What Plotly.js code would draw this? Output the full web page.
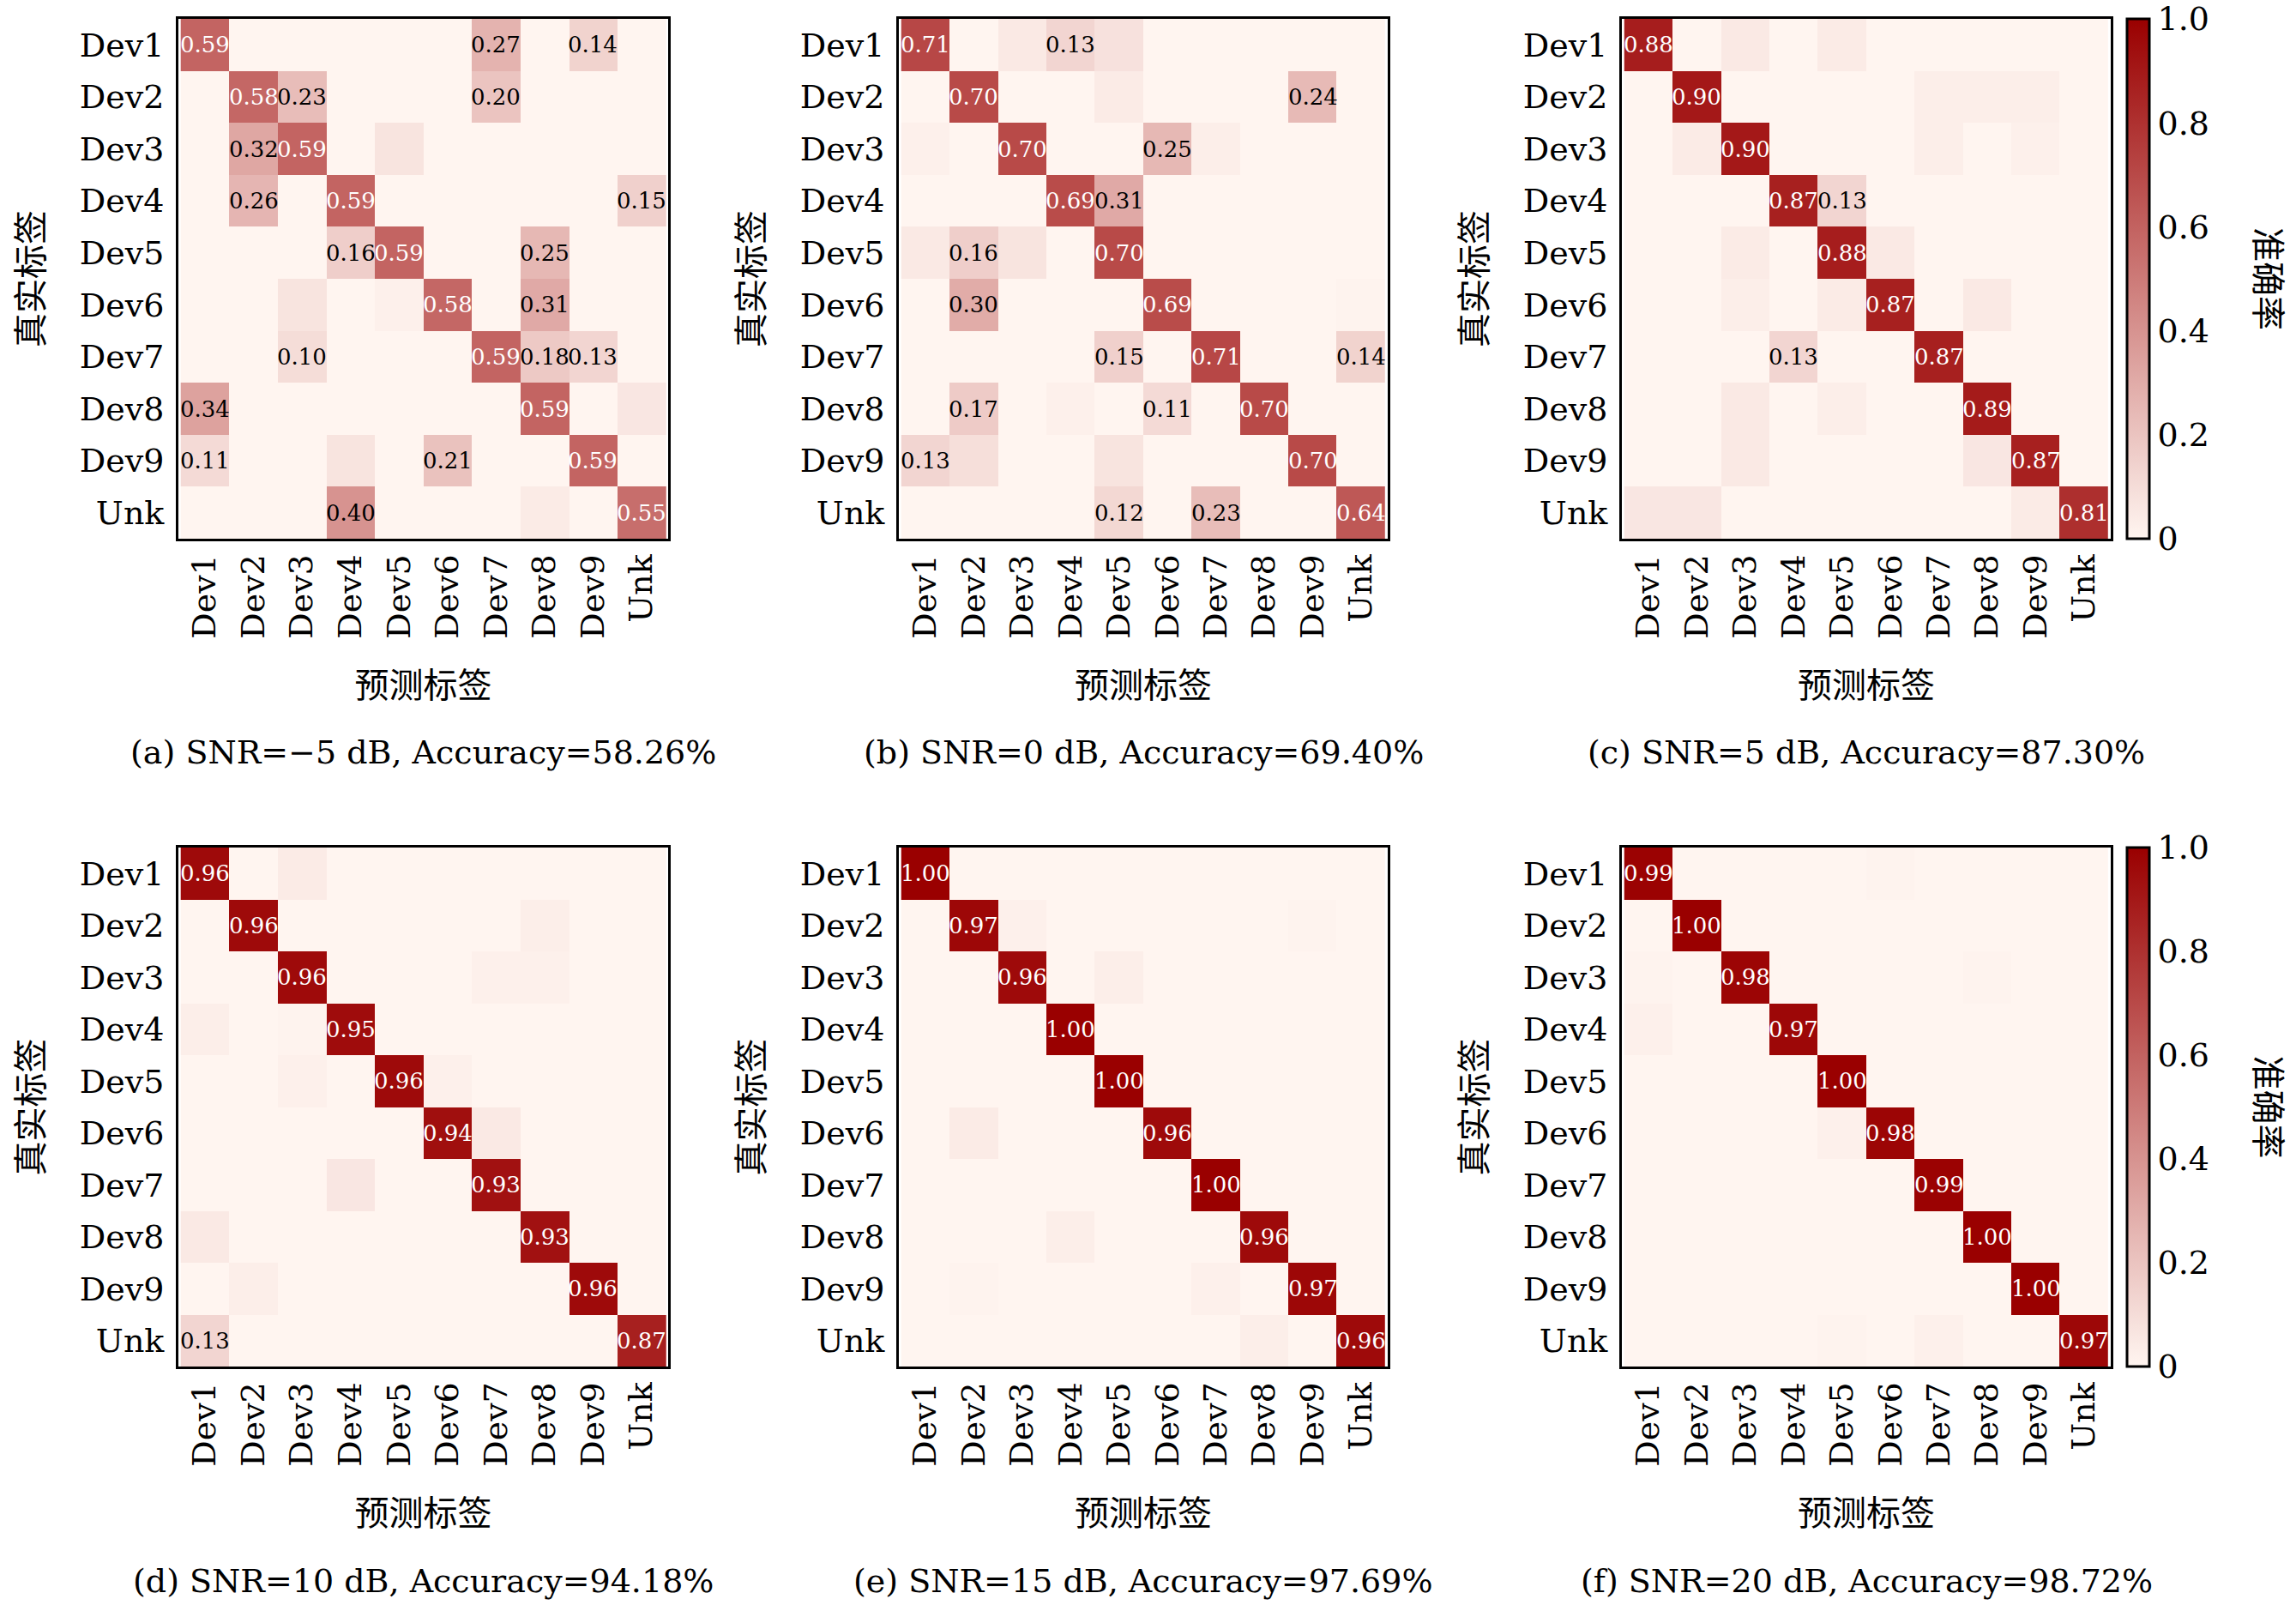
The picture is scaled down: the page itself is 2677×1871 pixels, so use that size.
<!DOCTYPE html>
<html>
<head>
<meta charset="utf-8">
<script src="https://cdn.plot.ly/plotly-3.0.1.min.js"></script>
<style>body{margin:0;background:#fff}#plot{width:2677px;height:1871px}</style>
</head>
<body>
<div id="plot"></div>
<script>
'use strict';

var labels = ['Dev1', 'Dev2', 'Dev3', 'Dev4', 'Dev5', 'Dev6', 'Dev7', 'Dev8', 'Dev9', 'Unk'];

var captions = [
	'(a) SNR=−5 dB, Accuracy=58.26%',
	'(b) SNR=0 dB, Accuracy=69.40%',
	'(c) SNR=5 dB, Accuracy=87.30%',
	'(d) SNR=10 dB, Accuracy=94.18%',
	'(e) SNR=15 dB, Accuracy=97.69%',
	'(f) SNR=20 dB, Accuracy=98.72%'
];

// rows = true label, cols = predicted label
var cmA = [
	[0.59, 0, 0, 0, 0, 0, 0.27, 0, 0.14, 0],
	[0, 0.58, 0.23, 0, 0, 0, 0.20, 0, 0, 0],
	[0, 0.32, 0.59, 0, 0.07, 0, 0, 0, 0, 0],
	[0, 0.26, 0, 0.59, 0, 0, 0, 0, 0, 0.15],
	[0, 0, 0, 0.16, 0.59, 0, 0, 0.25, 0, 0],
	[0, 0, 0.07, 0, 0.02, 0.58, 0, 0.31, 0, 0],
	[0, 0, 0.10, 0, 0, 0, 0.59, 0.18, 0.13, 0],
	[0.34, 0, 0, 0, 0, 0, 0, 0.59, 0, 0.06],
	[0.11, 0, 0, 0.07, 0, 0.21, 0, 0, 0.59, 0],
	[0, 0, 0, 0.40, 0, 0, 0, 0.04, 0, 0.55]
];
var cmB = [
	[0.71, 0, 0.05, 0.13, 0.08, 0, 0, 0, 0, 0],
	[0, 0.70, 0, 0, 0.04, 0, 0, 0, 0.24, 0],
	[0.02, 0, 0.70, 0, 0, 0.25, 0.03, 0, 0, 0],
	[0, 0, 0, 0.69, 0.31, 0, 0, 0, 0, 0],
	[0.05, 0.16, 0.07, 0, 0.70, 0, 0, 0, 0, 0],
	[0, 0.30, 0, 0, 0, 0.69, 0, 0, 0, 0.01],
	[0, 0, 0, 0, 0.15, 0, 0.71, 0, 0, 0.14],
	[0, 0.17, 0, 0.02, 0, 0.11, 0, 0.70, 0, 0],
	[0.13, 0.09, 0, 0, 0.07, 0, 0, 0, 0.70, 0],
	[0, 0, 0, 0, 0.12, 0, 0.23, 0, 0, 0.64]
];
var cmC = [
	[0.88, 0, 0.05, 0, 0.04, 0, 0, 0, 0, 0],
	[0, 0.90, 0, 0, 0, 0, 0.03, 0.03, 0.03, 0],
	[0, 0.04, 0.90, 0, 0, 0, 0.03, 0, 0.02, 0],
	[0, 0, 0, 0.87, 0.13, 0, 0, 0, 0, 0],
	[0, 0, 0.04, 0, 0.88, 0.05, 0, 0, 0, 0],
	[0, 0, 0.03, 0, 0.04, 0.87, 0, 0.05, 0, 0],
	[0, 0, 0, 0.13, 0, 0, 0.87, 0, 0, 0],
	[0, 0, 0.05, 0, 0.03, 0, 0, 0.89, 0, 0],
	[0, 0, 0.05, 0, 0, 0, 0, 0.06, 0.87, 0],
	[0.06, 0.06, 0, 0, 0, 0, 0, 0, 0.04, 0.81]
];
var cmD = [
	[0.96, 0, 0.04, 0, 0, 0, 0, 0, 0, 0],
	[0, 0.96, 0, 0, 0, 0, 0, 0.03, 0, 0],
	[0, 0, 0.96, 0, 0, 0, 0.02, 0.02, 0, 0],
	[0.03, 0, 0.01, 0.95, 0, 0, 0, 0, 0, 0],
	[0, 0, 0.02, 0, 0.96, 0.02, 0, 0, 0, 0],
	[0, 0, 0, 0, 0, 0.94, 0.05, 0, 0, 0],
	[0, 0, 0, 0.06, 0, 0, 0.93, 0, 0, 0],
	[0.05, 0, 0, 0, 0, 0, 0, 0.93, 0, 0],
	[0, 0.03, 0, 0, 0, 0, 0, 0, 0.96, 0],
	[0.13, 0, 0, 0, 0, 0, 0, 0, 0, 0.87]
];
var cmE = [
	[1.00, 0, 0, 0, 0, 0, 0, 0, 0, 0],
	[0, 0.97, 0.02, 0, 0, 0, 0, 0, 0.01, 0],
	[0, 0, 0.96, 0, 0.03, 0, 0, 0, 0, 0],
	[0, 0, 0, 1.00, 0, 0, 0, 0, 0, 0],
	[0, 0, 0, 0, 1.00, 0, 0, 0, 0, 0],
	[0, 0.04, 0, 0, 0, 0.96, 0, 0, 0, 0],
	[0, 0, 0, 0, 0, 0, 1.00, 0, 0, 0],
	[0, 0, 0, 0.03, 0, 0, 0, 0.96, 0, 0],
	[0, 0.01, 0, 0, 0, 0, 0.02, 0, 0.97, 0],
	[0, 0, 0, 0, 0, 0, 0, 0.03, 0, 0.96]
];
var cmF = [
	[0.99, 0, 0, 0, 0, 0.01, 0, 0, 0, 0],
	[0, 1.00, 0, 0, 0, 0, 0, 0, 0, 0],
	[0.01, 0, 0.98, 0, 0, 0, 0, 0.01, 0, 0],
	[0.02, 0, 0, 0.97, 0, 0, 0, 0, 0, 0],
	[0, 0, 0, 0, 1.00, 0, 0, 0, 0, 0],
	[0, 0, 0, 0, 0.02, 0.98, 0, 0, 0, 0],
	[0, 0, 0, 0, 0, 0, 0.99, 0, 0, 0],
	[0, 0, 0, 0, 0, 0, 0, 1.00, 0, 0],
	[0, 0, 0, 0, 0, 0, 0, 0, 1.00, 0],
	[0, 0, 0, 0, 0.01, 0, 0.02, 0, 0, 0.97]
];

var mats = [cmA, cmB, cmC, cmD, cmE, cmF];

var W = 2677, H = 1871;
var serif = 'DejaVu Serif, Noto Sans CJK SC, serif';
var cjk = 'Noto Sans CJK SC, sans-serif';
var scale = [[0, '#fff5f0'], [1, '#9a0000']];

// panel boxes in px: left, right, top, bottom
var colsPx = [[208, 779], [1048, 1618], [1891, 2461]];
var rowsPx = [[22, 628], [988, 1593]];

var data = [];
var layout = {
	width: W, height: H,
	margin: {l: 0, r: 0, t: 0, b: 0},
	paper_bgcolor: '#fff', plot_bgcolor: '#fff',
	font: {family: serif, size: 38, color: '#000'},
	showlegend: false,
	annotations: [],
	coloraxis: {cmin: 0, cmax: 1, colorscale: scale},
	coloraxis2: {cmin: 0, cmax: 1, colorscale: scale}
};

mats.forEach(function(m, i) {
	var r = Math.floor(i / 3), c = i % 3;
	var n = i + 1;
	var xa = 'x' + (n === 1 ? '' : n), ya = 'y' + (n === 1 ? '' : n);
	var xd = [colsPx[c][0] / W, colsPx[c][1] / W];
	var yd = [1 - rowsPx[r][1] / H, 1 - rowsPx[r][0] / H];

	data.push({
		type: 'heatmap', z: m, x: labels, y: labels,
		xaxis: xa, yaxis: ya,
		coloraxis: r === 0 ? 'coloraxis' : 'coloraxis2',
		xgap: 0, ygap: 0, hoverinfo: 'skip'
	});

	var axLine = {showline: true, mirror: true, linecolor: '#000', linewidth: 3, ticks: '', showgrid: false, zeroline: false};
	layout['xaxis' + (n === 1 ? '' : n)] = Object.assign({}, axLine, {
		domain: xd, anchor: ya, tickangle: -90, tickfont: {size: 38, family: serif},
		title: {text: '预测标签', font: {family: cjk, size: 40}, standoff: 42}
	});
	layout['yaxis' + (n === 1 ? '' : n)] = Object.assign({}, axLine, {
		domain: yd, anchor: xa, autorange: 'reversed', tickfont: {size: 38, family: serif},
		ticklabelstandoff: 6,
		title: {text: '真实标签', font: {family: cjk, size: 40}, standoff: 30}
	});

	// cell labels for values >= 0.1
	m.forEach(function(row, yi) {
		row.forEach(function(v, xi) {
			if (v < 0.1) return;
			layout.annotations.push({
				x: labels[xi], y: labels[yi], xref: xa, yref: ya,
				text: v.toFixed(2), showarrow: false,
				font: {family: serif, size: 26, color: v > 0.5 ? '#fff' : '#000'}
			});
		});
	});

	layout.annotations.push({
		x: (xd[0] + xd[1]) / 2, y: 1 - (r === 0 ? 877 : 1843) / H,
		xref: 'paper', yref: 'paper', showarrow: false,
		xanchor: 'center', yanchor: 'middle',
		text: captions[i], font: {family: serif, size: 38}
	});
});

[layout.coloraxis, layout.coloraxis2].forEach(function(ca, k) {
	var rp = rowsPx[k];
	ca.colorbar = {
		x: 2480 / W, xanchor: 'left', xpad: 0, ypad: 0,
		y: 1 - rp[1] / H, yanchor: 'bottom',
		len: (rp[1] - rp[0]) / H, lenmode: 'fraction',
		thickness: 26, thicknessmode: 'pixels',
		outlinecolor: '#000', outlinewidth: 3,
		tickvals: [0, 0.2, 0.4, 0.6, 0.8, 1.0],
		ticktext: ['0', '0.2', '0.4', '0.6', '0.8', '1.0'],
		ticks: '', tickfont: {family: serif, size: 38}
	};
	layout.annotations.push({
		x: 2647 / W, y: 1 - (rp[0] + rp[1]) / 2 / H,
		xref: 'paper', yref: 'paper', showarrow: false, textangle: 90,
		xanchor: 'center', yanchor: 'middle',
		text: '准确率', font: {family: cjk, size: 40}
	});
});

Plotly.newPlot('plot', data, layout, {staticPlot: true});
</script>
</body>
</html>
